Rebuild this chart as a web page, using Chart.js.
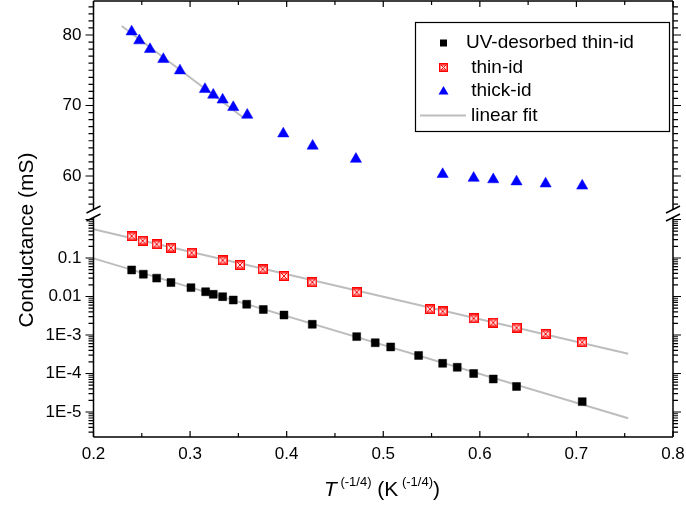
<!DOCTYPE html>
<html><head><meta charset="utf-8">
<script src="https://cdn.jsdelivr.net/npm/chart.js@4/dist/chart.umd.min.js"></script>
<style>html,body{margin:0;padding:0;background:#fff;}canvas{display:block;}</style>
</head><body>
<canvas id="c" width="686" height="508"></canvas>
<script>
// ---- data ----
const uvX = [0.2395,0.2516,0.2654,0.2802,0.3009,0.3161,0.3240,0.3337,0.3447,0.3586,0.3758,0.3972,0.4265,0.4725,0.4917,0.5077,0.5366,0.5615,0.5766,0.5936,0.6139,0.6380,0.7060];
const uvY = [0.049,0.038,0.030,0.023,0.017,0.0133,0.0114,0.0099,0.0081,0.0063,0.0046,0.0033,0.0019,9.1e-4,6.3e-4,4.9e-4,2.95e-4,1.84e-4,1.45e-4,1.0e-4,7.2e-5,4.6e-5,1.86e-5];
const thinX = [0.2395,0.2509,0.2654,0.2802,0.3016,0.3337,0.3517,0.3752,0.3972,0.4265,0.4725,0.5483,0.5615,0.5936,0.6139,0.6380,0.6681,0.7060];
const thinY = [0.37,0.28,0.227,0.185,0.137,0.087,0.066,0.051,0.034,0.0234,0.0129,0.0047,0.0041,0.0027,0.0021,0.00155,0.00107,6.5e-4];
const thickX = [0.2395,0.2474,0.2585,0.2723,0.2895,0.3154,0.3240,0.3337,0.3447,0.3592,0.3965,0.4269,0.4717,0.5615,0.5936,0.6139,0.6380,0.6681,0.7060];
const thickY = [80.47,79.2,77.97,76.55,74.94,72.3,71.5,70.8,69.74,68.65,66.0,64.26,62.4,60.24,59.7,59.5,59.2,58.9,58.6];
const fitUvX = [0.2, 0.7536];
const fitUvY = [0.098, 6.9e-6];
const fitThinX = [0.2, 0.7536];
const fitThinY = [0.556, 3.25e-4];
const fitThickX = [0.2292, 0.355];
const fitThickY = [81.28, 68.3];
const xTickValues = [0.2,0.3,0.4,0.5,0.6,0.7,0.8];
const linTickValues = [60,70,80];
const logTickValues = [1e-5,1e-4,1e-3,0.01,0.1];
const logTickLabels = ['1E-5','1E-4','1E-3','0.01','0.1'];
const legendLabels = ['UV-desorbed thin-id',' thin-id',' thick-id','linear fit'];
const yTitle = 'Conductance (mS)';

const FONT = "'Liberation Sans', Arial, Helvetica, sans-serif";
Chart.defaults.font.family = FONT;
Chart.defaults.font.size = 17;
Chart.defaults.color = '#000';

function pts(xs, ys){ return xs.map((x,i)=>({x:x, y:ys[i]})); }

function makeThinMarker(size){
  const c = document.createElement('canvas'); c.width = size; c.height = size;
  const g = c.getContext('2d');
  g.fillStyle = '#ffe6e6'; g.fillRect(0,0,size,size);
  g.strokeStyle = '#ff0000'; g.lineWidth = 1.5;
  g.strokeRect(0.75,0.75,size-1.5,size-1.5);
  g.lineWidth = 1;
  g.beginPath(); g.moveTo(2,2); g.lineTo(size-2,size-2); g.moveTo(size-2,2); g.lineTo(2,size-2);
  g.moveTo(2,2); g.lineTo(size-2,2); g.moveTo(2,size-2); g.lineTo(size-2,size-2);
  g.stroke();
  return c;
}
const thinMarker = makeThinMarker(10);
const thinMarkerSmall = makeThinMarker(9);

const GRAY = '#bdbdbd';

function noPad(s){ s.paddingTop = 0; s.paddingBottom = 0; s.paddingLeft = 0; s.paddingRight = 0; }

const decor = {
  id: 'decor',
  afterDraw(chart){
    const ctx = chart.ctx;
    const xs = chart.scales.x, yT = chart.scales.yTop, yB = chart.scales.yBot;
    const L = xs.left, R = xs.right, T = yT.top, B = yB.bottom;
    const gapTop = yT.bottom - 4, gapBot = yB.top + 5;
    ctx.save();
    ctx.strokeStyle = '#000'; ctx.lineWidth = 1.5; ctx.lineCap = 'butt';
    ctx.beginPath();
    ctx.moveTo(L, B); ctx.lineTo(R, B);
    ctx.moveTo(L, T); ctx.lineTo(R, T);
    ctx.moveTo(L, T); ctx.lineTo(L, gapTop);
    ctx.moveTo(L, gapBot); ctx.lineTo(L, B);
    ctx.moveTo(R, T); ctx.lineTo(R, gapTop);
    ctx.moveTo(R, gapBot); ctx.lineTo(R, B);
    ctx.stroke();
    ctx.lineWidth = 1.2;
    ctx.beginPath();
    for (let i = 0; i <= 12; i++){
      const v = 0.2 + i*0.05;
      const px = xs.getPixelForValue(v);
      const len = (i % 2 === 0) ? 6 : 4;
      ctx.moveTo(px, B); ctx.lineTo(px, B - len);
      ctx.moveTo(px, T); ctx.lineTo(px, T + len);
    }
    for (let v = 50; v <= 90; v++){
      const py = yT.getPixelForValue(v);
      if (py < T - 0.5 || py > gapTop - 1) continue;
      const len = (v % 10 === 0) ? 8 : 5;
      ctx.moveTo(L, py); ctx.lineTo(L - len, py);
      ctx.moveTo(R, py); ctx.lineTo(R + len, py);
    }
    for (let e = -7; e <= 1; e++){
      for (let m = 1; m <= 9; m++){
        const v = m * Math.pow(10, e);
        const py = yB.getPixelForValue(v);
        if (py < gapBot + 1 || py > B + 0.5) continue;
        const len = (m === 1) ? 8 : 5;
        ctx.moveTo(L, py); ctx.lineTo(L - len, py);
        ctx.moveTo(R, py); ctx.lineTo(R + len, py);
      }
    }
    ctx.stroke();
    ctx.lineWidth = 1.5;
    ctx.beginPath();
    [L, R].forEach(ax => {
      ctx.moveTo(ax - 7, gapTop + 4); ctx.lineTo(ax + 7, gapTop - 3);
      ctx.moveTo(ax - 7, gapBot + 3); ctx.lineTo(ax + 7, gapBot - 4);
    });
    ctx.stroke();

    ctx.fillStyle = '#000';
    ctx.save();
    ctx.translate(27, 240);
    ctx.rotate(-Math.PI/2);
    ctx.font = '21px ' + FONT;
    ctx.textAlign = 'center'; ctx.textBaseline = 'middle';
    ctx.fillText(yTitle, 0, 0);
    ctx.restore();

    const big = '21px ' + FONT, bigIt = 'italic 21px ' + FONT, sup = '13px ' + FONT;
    const parts = [
      {t:'T', f:bigIt, dy:0},
      {t:' (-1/4)', f:sup, dy:-10},
      {t:' (K', f:big, dy:0},
      {t:' (-1/4)', f:sup, dy:-10},
      {t:')', f:big, dy:0}
    ];
    let tw = 0;
    parts.forEach(p => { ctx.font = p.f; p.w = ctx.measureText(p.t).width; tw += p.w; });
    let cx = 382 - tw/2; const base = 496;
    ctx.textAlign = 'left'; ctx.textBaseline = 'alphabetic';
    parts.forEach(p => { ctx.font = p.f; ctx.fillText(p.t, cx, base + p.dy); cx += p.w; });

    const bx = 415, by = 22, bw = 254, bh = 109;
    ctx.fillStyle = '#fff'; ctx.fillRect(bx, by, bw, bh);
    ctx.strokeStyle = '#000'; ctx.lineWidth = 1.2;
    ctx.strokeRect(bx + 0.5, by + 0.5, bw, bh);
    ctx.font = '19px ' + FONT; ctx.textBaseline = 'middle'; ctx.textAlign = 'left';
    const rows = [43, 67.5, 91, 115.5];
    ctx.fillStyle = '#000'; ctx.fillRect(440, rows[0] - 3.5, 7, 7);
    ctx.fillText(legendLabels[0], 466, rows[0]);
    ctx.drawImage(thinMarkerSmall, 439, rows[1] - 4.5);
    ctx.fillText(legendLabels[1], 466, rows[1]);
    ctx.fillStyle = '#0000ff';
    ctx.beginPath(); ctx.moveTo(443.5, rows[2] - 5); ctx.lineTo(448.5, rows[2] + 3.5); ctx.lineTo(438.5, rows[2] + 3.5); ctx.closePath(); ctx.fill();
    ctx.fillStyle = '#000';
    ctx.fillText(legendLabels[2], 466, rows[2]);
    ctx.strokeStyle = GRAY; ctx.lineWidth = 2;
    ctx.beginPath(); ctx.moveTo(420, rows[3]); ctx.lineTo(466, rows[3]); ctx.stroke();
    ctx.fillText(legendLabels[3], 471, rows[3]);
    ctx.restore();
  }
};

const chart = new Chart(document.getElementById('c'), {
  type: 'scatter',
  data: {
    datasets: [
      { label: legendLabels[0], data: pts(uvX, uvY), yAxisID: 'yBot', pointStyle: 'rect', pointRadius: 5.6, pointHoverRadius: 5.6, backgroundColor: '#000', borderColor: '#000', borderWidth: 0.5 },
      { label: legendLabels[1], data: pts(thinX, thinY), yAxisID: 'yBot', pointStyle: thinMarker, pointRadius: 5 },
      { label: legendLabels[2], data: pts(thickX, thickY), yAxisID: 'yTop', pointStyle: 'triangle', pointRadius: 6.5, pointHoverRadius: 6.5, backgroundColor: '#0000ff', borderColor: '#0000ff', borderWidth: 0.5 },
      { label: 'fit1', data: pts(fitUvX, fitUvY), yAxisID: 'yBot', showLine: true, pointRadius: 0, borderColor: GRAY, borderWidth: 2 },
      { label: 'fit2', data: pts(fitThinX, fitThinY), yAxisID: 'yBot', showLine: true, pointRadius: 0, borderColor: GRAY, borderWidth: 2 },
      { label: 'fit3', data: pts(fitThickX, fitThickY), yAxisID: 'yTop', showLine: true, pointRadius: 0, borderColor: GRAY, borderWidth: 2 }
    ]
  },
  options: {
    responsive: false,
    animation: false,
    devicePixelRatio: 1,
    layout: { autoPadding: false, padding: { left: 0, right: 13, top: 1, bottom: 0 } },
    plugins: { legend: { display: false }, tooltip: { enabled: false } },
    scales: {
      x: {
        type: 'linear', position: 'bottom', min: 0.2, max: 0.8,
        grid: { display: false, drawTicks: false }, border: { display: false },
        ticks: { padding: 7, callback: v => v.toFixed(1) },
        afterBuildTicks: s => { s.ticks = xTickValues.map(v => ({ value: v })); },
        afterFit: s => { s.height = 71; noPad(s); }
      },
      yBot: {
        type: 'logarithmic', position: 'left', stack: 'ystack', stackWeight: 224, weight: 1,
        min: Math.pow(10, -5.649), max: Math.pow(10, 0.169),
        grid: { display: false, drawTicks: false }, border: { display: false },
        ticks: { padding: 12, callback: v => { const i = logTickValues.indexOf(v); return i >= 0 ? logTickLabels[i] : ''; } },
        afterBuildTicks: s => { s.ticks = logTickValues.map(v => ({ value: v })); },
        afterFit: s => { s.width = 93.5; noPad(s); }
      },
      yTop: {
        type: 'linear', position: 'left', stack: 'ystack', stackWeight: 212, weight: 2,
        min: 54.75, max: 84.82,
        grid: { display: false, drawTicks: false }, border: { display: false },
        ticks: { padding: 12, callback: v => String(v) },
        afterBuildTicks: s => { s.ticks = linTickValues.map(v => ({ value: v })); },
        afterFit: s => { s.width = 93.5; noPad(s); }
      }
    }
  },
  plugins: [decor]
});
</script>
</body></html>
